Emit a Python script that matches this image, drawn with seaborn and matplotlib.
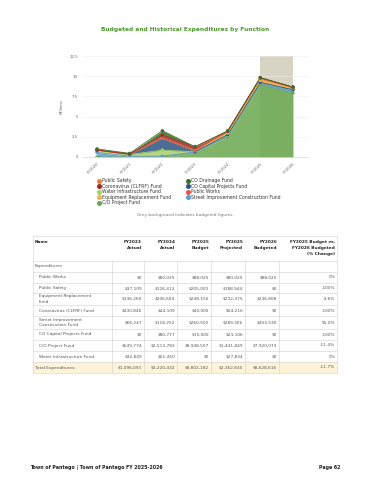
import numpy as np
import pandas as pd
import seaborn as sns
import matplotlib.pyplot as plt
from matplotlib.lines import Line2D

# chart data (millions), FY2020..FY2026
years = ["FY2020", "FY2021", "FY2022", "FY2023", "FY2024", "FY2025", "FY2026"]
co_project = [0.0, 0.0, 0.0, 0.55, 2.51, 8.95, 7.92]
street = [0.55, 0.10, 0.10, 0.07, 0.12, 0.26, 0.40]
water = [0.30, 0.20, 0.75, 0.03, 0.05, 0.0, 0.0]
co_capital = [0.0, 0.05, 1.50, 0.0, 0.08, 0.02, 0.0]
equipment = [0.0, 0.0, 0.0, 0.14, 0.21, 0.25, 0.24]
safety = [0.0, 0.0, 0.0, 0.04, 0.13, 0.21, 0.0]
works = [0.0, 0.0, 0.0, 0.0, 0.08, 0.09, 0.09]
corona = [0.0, 0.0, 0.35, 0.43, 0.04, 0.04, 0.0]
drainage = [0.15, 0.10, 0.55, 0.0, 0.0, 0.0, 0.0]

# stack order bottom -> top
series = [
    ("C/O Project Fund", co_project, "#6aa84f"),
    ("Street Improvement Construction Fund", street, "#5b9bd5"),
    ("Water Infrastructure Fund", water, "#a9d166"),
    ("CO Capital Projects Fund", co_capital, "#2e5582"),
    ("Equipment Replacement Fund", equipment, "#f2b447"),
    ("Public Safety", safety, "#e8843a"),
    ("Public Works", works, "#e0574f"),
    ("Coronavirus (CLFRF) Fund", corona, "#a82626"),
    ("CO Drainage Fund", drainage, "#3b6e27"),
]
legend_order = ["Public Safety", "Coronavirus (CLFRF) Fund", "Water Infrastructure Fund",
                "Equipment Replacement Fund", "C/O Project Fund",
                "CO Drainage Fund", "CO Capital Projects Fund", "Public Works",
                "Street Improvement Construction Fund"]

# table data
col_heads = [["FY2023", "Actual"], ["FY2024", "Actual"], ["FY2025", "Budget"],
             ["FY2025", "Projected"], ["FY2026", "Budgeted"],
             ["FY2025 Budget vs.", "FY2026 Budgeted", "(% Change)"]]
row_names = [["Public Works"], ["Public Safety"], ["Equipment Replacement", "Fund"],
             ["Coronavirus (CLFRF) Fund"], ["Street Improvement", "Construction Fund"],
             ["CO Capital Projects Fund"], ["C/O Project Fund"], ["Water Infrastructure Fund"]]
row_vals = [
    ["$0", "$80,025", "$88,025", "$80,025", "$88,025", "0%"],
    ["$37,109", "$126,412", "$205,000", "$188,944", "$0", "-100%"],
    ["$136,269", "$206,604", "$248,150", "$232,375", "$236,808", "-4.6%"],
    ["$430,846", "$44,109", "$40,000", "$54,216", "$0", "-100%"],
    ["$66,247", "$118,252", "$260,500", "$289,306", "$403,530", "55.0%"],
    ["$0", "$80,777", "$15,000", "$23,106", "$0", "-100%"],
    ["$549,774", "$2,513,783", "$8,948,507", "$1,441,849", "$7,920,073", "-11.4%"],
    ["$32,849", "$51,450", "$0", "$27,834", "$0", "0%"],
]
total_vals = ["$1,096,093", "$3,220,432", "$9,802,182", "$2,362,645", "$8,628,616", "-11.7%"]

sns.set_style("white")
plt.rcParams['font.family'] = ['DejaVu Sans']

fig = plt.figure(figsize=(3.7, 4.8), dpi=100)
page = fig.add_axes([0, 0, 1, 1])
page.set_xlim(0, 370)
page.set_ylim(480, 0)
page.axis("off")

ax = fig.add_axes([82 / 370, 1 - 157 / 480, 226 / 370, 101 / 480])
x = np.arange(len(years))
ax.axvspan(5, 6, ymax=1, color="#d8d4c3", zorder=0, lw=0)

rows = []
base = np.zeros(len(years))
for name, vals, col in series:
    top = base + np.array(vals)
    ax.fill_between(x, base, top, color=col, alpha=0.85, lw=0, zorder=2)
    ax.plot(x, top, color=col, lw=0.6, zorder=3)
    for i, v in enumerate(top):
        rows.append({"x": i, "y": v, "fund": name})
    base = top
df = pd.DataFrame(rows)
pal = {n: c for n, _, c in series}
sns.scatterplot(data=df, x="x", y="y", hue="fund", palette=pal, s=6, linewidth=0,
                legend=False, ax=ax, zorder=4)

ax.set_xlim(-0.46, 6.46)
ax.set_ylim(0, 12.5)
ax.set_yticks([0, 2.5, 5, 7.5, 10, 12.5])
ax.set_yticklabels(["0", "2.5", "5", "7.5", "10", "12.5"])
ax.set_xticks(x)
ax.set_xticklabels(years, rotation=45, ha="right", rotation_mode="anchor")
ax.tick_params(labelsize=2.8, colors="#666666", length=0, pad=3)
ax.yaxis.grid(True, color="#eeeeee", lw=0.4)
ax.set_axisbelow(True)
for s in ["top", "right", "left"]:
    ax.spines[s].set_visible(False)
ax.spines["bottom"].set_color("#cccccc")
ax.spines["bottom"].set_linewidth(0.4)
ax.set_xlabel("")
ax.set_ylabel("Millions", fontsize=2.8, color="#666666", labelpad=4)

page.text(185, 30, "Budgeted and Historical Expenditures by Function", ha="center",
          va="center", fontsize=4.2, fontweight="bold", color="#4a9a2c")

handles = [Line2D([], [], marker="o", ls="", color=pal[n], markersize=2.6) for n in legend_order]
leg = fig.legend(handles, legend_order, ncol=2, loc="upper left",
                 bbox_to_anchor=(95 / 370, 1 - 176 / 480), frameon=False, fontsize=3.3,
                 handletextpad=0.3, labelspacing=0.12, columnspacing=3.2, borderpad=0,
                 handlelength=0.8)
for t in leg.get_texts():
    t.set_color("#333333")

page.text(185, 215, "Grey background indicates budgeted figures.", ha="center",
          va="center", fontsize=3.1, color="#777777")

# table
edges = [33, 112, 144, 177, 211, 245, 279, 337]
hlines = [236, 261, 272, 283, 293, 305, 316, 329, 340, 351, 362, 373]
page.add_patch(plt.Rectangle((33, 362), 304, 11, color="#fdf3d8", lw=0, zorder=0))
for yv in hlines:
    page.plot([33, 337], [yv, yv], color="#d0d0d0", lw=0.4)
for xv in edges:
    page.plot([xv, xv], [261, 373], color="#d0d0d0", lw=0.4)
for xv in [33, 337]:
    page.plot([xv, xv], [236, 261], color="#d0d0d0", lw=0.4)

fs = 3.1
page.text(35, 242, "Name", fontsize=fs, fontweight="bold", va="center", color="#222222")
for j, head in enumerate(col_heads):
    for k, line in enumerate(head):
        page.text(edges[j + 2] - 2, 242 + 6 * k, line, fontsize=fs, fontweight="bold",
                  ha="right", va="center", color="#222222")
page.text(35, 266.5, "Expenditures", fontsize=fs, va="center", color="#555555")
for i in range(len(row_names)):
    y0, y1 = hlines[i + 2], hlines[i + 3]
    yc = (y0 + y1) / 2
    names = row_names[i]
    for k, line in enumerate(names):
        page.text(39, yc + (k - (len(names) - 1) / 2) * 6, line, fontsize=fs,
                  va="center", color="#555555")
    for j, v in enumerate(row_vals[i]):
        page.text(edges[j + 2] - 2, yc, v, fontsize=fs, ha="right", va="center",
                  color="#555555")
page.text(35, 367.5, "Total Expenditures:", fontsize=fs, va="center", color="#555555")
for j, v in enumerate(total_vals):
    page.text(edges[j + 2] - 2, 367.5, v, fontsize=fs, ha="right", va="center",
              color="#555555")

page.text(30, 468, "Town of Pantego | Town of Pantego FY 2025-2026", fontsize=3.4,
          fontweight="bold", va="center", color="#222222")
page.text(340, 468, "Page 62", fontsize=3.4, fontweight="bold", ha="right",
          va="center", color="#222222")

fig.savefig("out.png", dpi=100)
